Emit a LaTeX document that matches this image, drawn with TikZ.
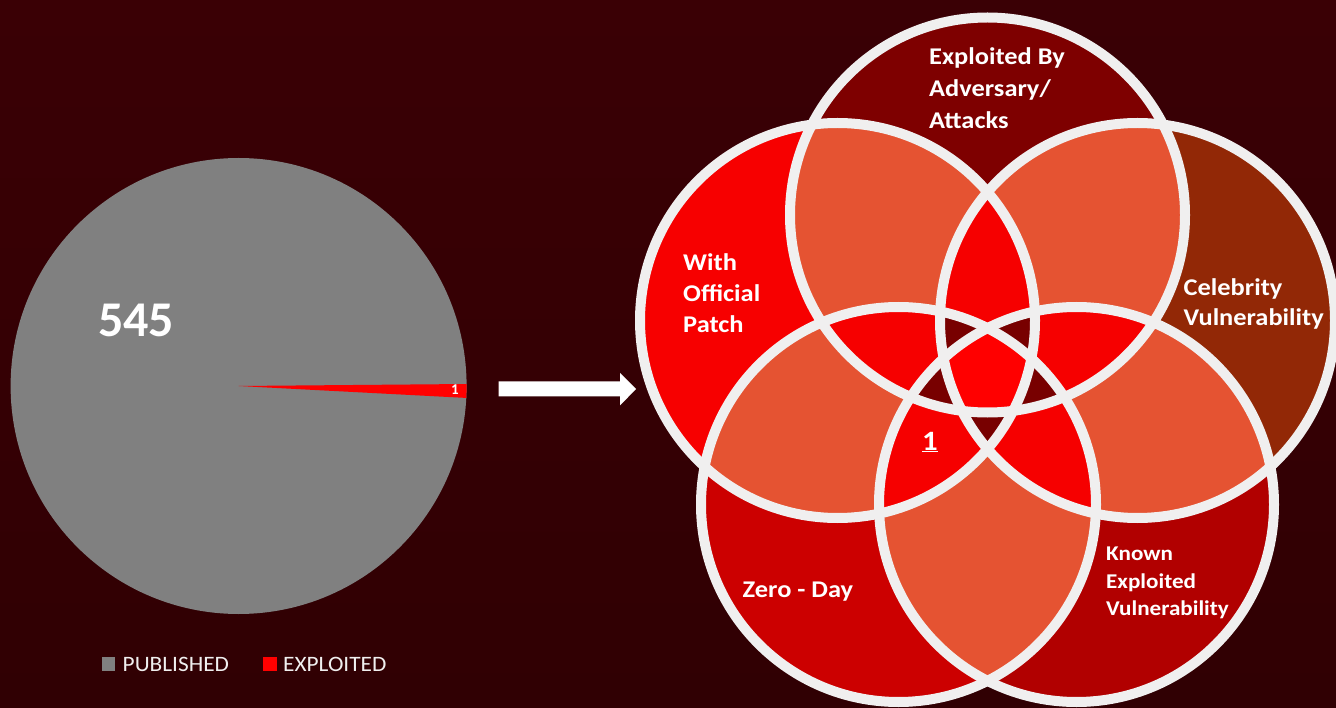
\documentclass[tikz,border=0pt]{standalone}
\usepackage{fontspec}
\setmainfont{Carlito}
\newfontfamily\vennfont[FakeStretch=1.1]{Carlito}
\newfontfamily\legfont[FakeStretch=1.06]{Carlito}

\definecolor{bgtop}{HTML}{3A0005}
\definecolor{bgbot}{HTML}{300003}
\definecolor{piegrey}{HTML}{808080}
\definecolor{ringwhite}{HTML}{F0EFEF}
\definecolor{advcol}{HTML}{7E0000}
\definecolor{patchcol}{HTML}{F70000}
\definecolor{celebcol}{HTML}{922806}
\definecolor{zerocol}{HTML}{CC0000}
\definecolor{kevcol}{HTML}{B10000}
\definecolor{twocol}{HTML}{E55332}
\definecolor{threecol}{HTML}{F60000}
\definecolor{fourcol}{HTML}{780000}
\definecolor{fivecol}{HTML}{FF0000}

\tikzset{
  ring/.style={draw=ringwhite, line width=10},
  vlabel/.style={text=white, inner sep=0, align=left, anchor=north west,
    font=\vennfont\bfseries\fontsize{24}{31}\selectfont},
  legtext/.style={text=ringwhite, inner sep=0, anchor=base west,
    font=\legfont\fontsize{22}{26}\selectfont},
}

\begin{document}
\begin{tikzpicture}[x=1pt, y=-1pt]
	\useasboundingbox (0,0) rectangle (1336,708);
	\clip (0,0) rectangle (1336,708);
	\shade[top color=bgtop, bottom color=bgbot] (0,0) rectangle (1336,708);

	% pie
	\coordinate (pie) at (238.6,386);
	\fill[piegrey] (pie) circle (228);
	\fill[red] (pie) -- ++(-0.5:228) arc (-0.5:3:228) -- cycle;
	\node [legtext, anchor=base, text=white, font=\bfseries\fontsize{15}{18}\selectfont] (pieone) at (455,395) {1};
	\node [legtext, text=white, font=\bfseries\fontsize{50}{60}\selectfont] (total) at (98,337) {545};

	% legend
	\fill[piegrey] (102,657) rectangle (115,671);
	\node [legtext] (pub) at (122.5,671) {PUBLISHED};
	\fill[red] (263,657) rectangle (276.5,671);
	\node [legtext] (expl) at (283,671) {EXPLOITED};

	% arrow
	\fill[white] (498.5,381.5) -- (620,381.5) -- (620,373) -- (636,389)
		-- (620,405.5) -- (620,396.5) -- (498.5,396.5) -- cycle;

	% venn
	\def\vr{197.5}
	\coordinate (cT)  at (987.5,215);
	\coordinate (cL)  at (837.5,320.5);
	\coordinate (cR)  at (1137.5,320.5);
	\coordinate (cBL) at (898.5,504.5);
	\coordinate (cBR) at (1076.5,504.5);

	\fill[advcol]   (cT)  circle (\vr);
	\fill[patchcol] (cL)  circle (\vr);
	\fill[celebcol] (cR)  circle (\vr);
	\fill[zerocol]  (cBL) circle (\vr);
	\fill[kevcol]   (cBR) circle (\vr);

	\foreach \pa/\pb in {T/L,T/R,T/BL,T/BR,L/R,L/BL,L/BR,R/BL,R/BR,BL/BR}
	{
		\begin{scope}
			\clip (c\pa) circle (\vr);
			\fill[twocol] (c\pb) circle (\vr);
		\end{scope}
	}
	\foreach \pa/\pb/\pc in {T/L/R,T/L/BL,T/L/BR,T/R/BL,T/R/BR,T/BL/BR,L/R/BL,L/R/BR,L/BL/BR,R/BL/BR}
	{
		\begin{scope}
			\clip (c\pa) circle (\vr);
			\clip (c\pb) circle (\vr);
			\fill[threecol] (c\pc) circle (\vr);
		\end{scope}
	}
	\foreach \pa/\pb/\pc/\pd in {L/R/BL/BR,T/R/BL/BR,T/L/BL/BR,T/L/R/BR,T/L/R/BL}
	{
		\begin{scope}
			\clip (c\pa) circle (\vr);
			\clip (c\pb) circle (\vr);
			\clip (c\pc) circle (\vr);
			\fill[fourcol] (c\pd) circle (\vr);
		\end{scope}
	}
	\begin{scope}
		\clip (cT) circle (\vr);
		\clip (cL) circle (\vr);
		\clip (cR) circle (\vr);
		\clip (cBL) circle (\vr);
		\fill[fivecol] (cBR) circle (\vr);
	\end{scope}

	\foreach \pa in {T,L,R,BL,BR}
		\draw[ring] (c\pa) circle (\vr);

	% labels
	\node [vlabel, font=\vennfont\bfseries\fontsize{24}{32}\selectfont] (adv) at (929,47) {Exploited By\\Adversary/\\Attacks};
	\node [vlabel] (patch) at (683,253) {With\\Official\\Patch};
	\node [vlabel, font=\vennfont\bfseries\fontsize{24}{30}\selectfont] (celeb) at (1183.5,278) {Celebrity\\Vulnerability};
	\node [vlabel] (zero) at (742.5,582) {Zero - Day};
	\node [vlabel, font=\vennfont\bfseries\fontsize{21}{27.5}\selectfont] (kev) at (1106,547) {Known\\Exploited\\Vulnerability};
	\node [legtext, anchor=base, text=white, font=\vennfont\bfseries\fontsize{28}{32}\selectfont] (count) at (930,450) {\underline{1}};
\end{tikzpicture}
\end{document}
